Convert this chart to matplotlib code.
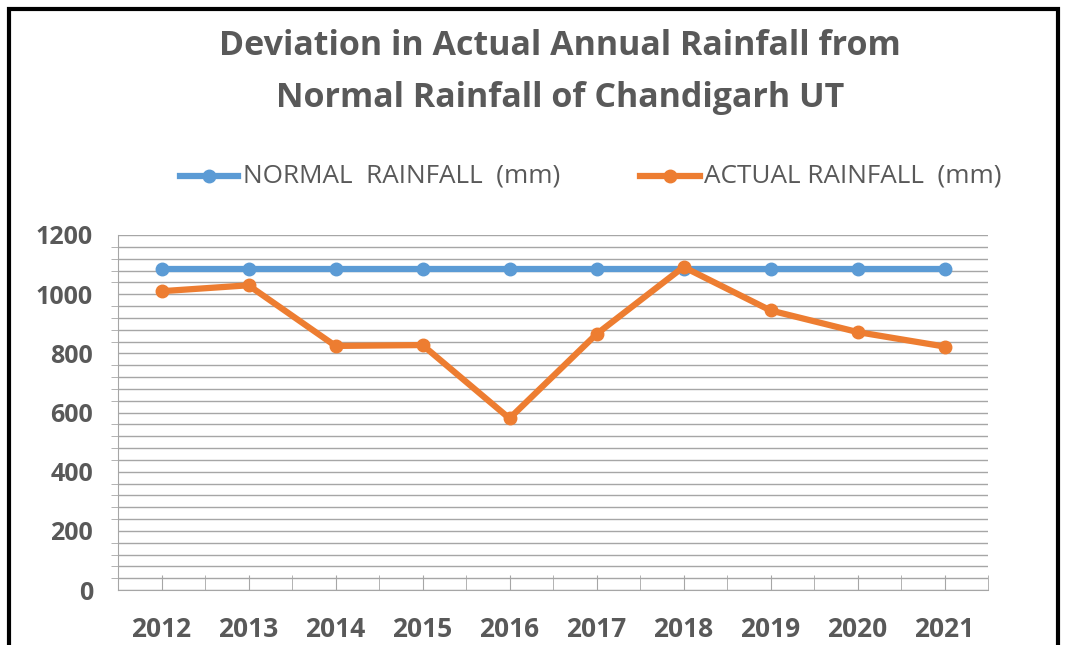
import numpy as np
import matplotlib.pyplot as plt
from matplotlib.patches import Rectangle

years = ['2012', '2013', '2014', '2015', '2016', '2017', '2018', '2019', '2020', '2021']
normal = [1084, 1084, 1084, 1084, 1084, 1084, 1084, 1084, 1084, 1084]
actual = [1010, 1030, 825, 828, 580, 865, 1092, 945, 872, 823]

blue = '#5B9BD5'
orange = '#ED7D31'
grey = '#595959'

plt.rcParams['font.family'] = ['Open Sans', 'DejaVu Sans']

fig = plt.figure(figsize=(10.66, 6.45), dpi=100)
ax = fig.add_axes([118/1066, 1 - 590/645, 870/1066, 355/645])

x = np.arange(len(years))
ax.plot(x, normal, color=blue, lw=4.5, marker='o', ms=9, zorder=3)
ax.plot(x, actual, color=orange, lw=4.5, marker='o', ms=9, zorder=4)

ax.set_xlim(-0.5, len(years) - 0.5)
ax.set_ylim(0, 1200)
ax.set_yticks(np.arange(0, 1201, 200))
ax.set_yticks(np.arange(0, 1201, 40), minor=True)
ax.grid(axis='y', which='both', color='#a6a6a6', lw=1)
ax.set_axisbelow(True)

ax.set_xticks(x)
ax.set_xticklabels(years)
ax.set_xticks(np.arange(-0.5, len(years)), minor=True)
ax.tick_params(axis='x', which='both', direction='in', length=11, color='#a6a6a6', pad=19)
ax.tick_params(axis='y', which='major', length=0, pad=18)
ax.tick_params(axis='y', which='minor', length=5, color='#a6a6a6', direction='out')
for lab in ax.get_xticklabels():
    lab.set_fontsize(19)
    lab.set_fontweight('bold')
    lab.set_color(grey)
for lab in ax.get_yticklabels():
    lab.set_fontsize(18)
    lab.set_fontweight('bold')
    lab.set_color(grey)

for s in ['top', 'right']:
    ax.spines[s].set_visible(False)
ax.spines['left'].set_color('#a6a6a6')
ax.spines['bottom'].set_color('#a6a6a6')

fig.text(0.525, 1 - 46/645, 'Deviation in Actual Annual Rainfall from', ha='center', va='center',
         fontsize=24.5, fontweight='bold', color=grey)
fig.text(0.525, 1 - 98/645, 'Normal Rainfall of Chandigarh UT', ha='center', va='center',
         fontsize=24.5, fontweight='bold', color=grey)

# legend drawn by hand to keep its spacing
ly = 1 - 176/645
fig.add_artist(plt.Line2D([180/1066, 238/1066], [ly, ly], color=blue, lw=4.5))
fig.add_artist(plt.Line2D([209/1066], [ly], color=blue, marker='o', ms=9))
fig.text(243/1066, ly, 'NORMAL  RAINFALL  (mm)', va='center', fontsize=18.8, color=grey)
fig.add_artist(plt.Line2D([640/1066, 700/1066], [ly, ly], color=orange, lw=4.5))
fig.add_artist(plt.Line2D([670/1066], [ly], color=orange, marker='o', ms=9))
fig.text(704/1066, ly, 'ACTUAL RAINFALL  (mm)', va='center', fontsize=18.8, color=grey)

fig.add_artist(Rectangle((9/1066, -0.1), 1049/1066, 1.1 - 9/645, transform=fig.transFigure,
                         fill=False, ec='black', lw=3))

fig.savefig('out.png', dpi=100)
